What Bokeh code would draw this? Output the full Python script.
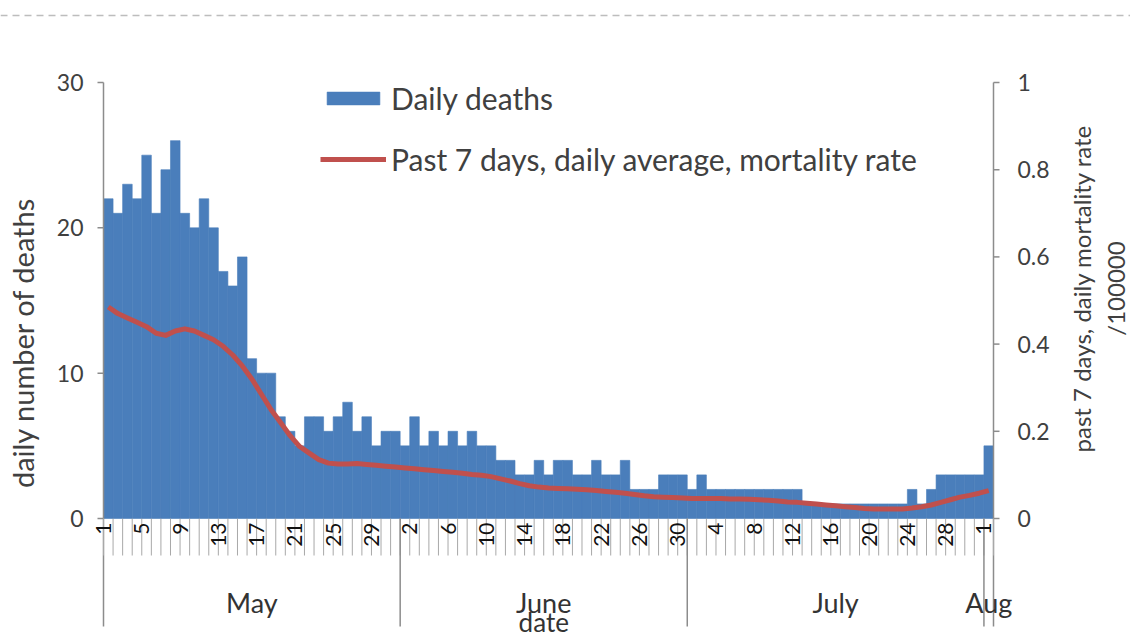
import math
from bokeh.plotting import figure
from bokeh.models import Range1d, Legend, LegendItem, ColumnDataSource, Span
from bokeh.embed import file_html
from bokeh.resources import INLINE
from bokeh.core.properties import value

# ---------------- data ----------------
months = ["May", "June", "July", "Aug"]
month_lengths = [31, 30, 31, 1]

deaths_may = [22, 21, 23, 22, 25, 21, 24, 26, 21, 20, 22, 20, 17, 16, 18, 11, 10, 10, 7, 6,
              5, 7, 7, 6, 7, 8, 6, 7, 5, 6, 6]
deaths_june = [5, 7, 5, 6, 5, 6, 5, 6, 5, 5, 4, 4, 3, 3, 4, 3, 4, 4, 3, 3,
               4, 3, 3, 4, 2, 2, 2, 3, 3, 3]
deaths_july = [2, 3, 2, 2, 2, 2, 2, 2, 2, 2, 2, 2, 1, 1, 1, 1, 1, 1, 1, 1,
               1, 1, 1, 2, 1, 2, 3, 3, 3, 3, 3]
deaths_aug = [5]

rate_may = [0.485, 0.47, 0.46, 0.45, 0.44, 0.425, 0.42, 0.43, 0.435, 0.43,
            0.42, 0.41, 0.395, 0.375, 0.35, 0.32, 0.285, 0.25, 0.22, 0.19,
            0.165, 0.15, 0.135, 0.127, 0.125, 0.125, 0.126, 0.124, 0.122, 0.12, 0.118]
rate_june = [0.116, 0.114, 0.112, 0.11, 0.108, 0.106, 0.104, 0.101, 0.099, 0.096,
             0.091, 0.086, 0.08, 0.075, 0.072, 0.07, 0.069, 0.068, 0.067, 0.066,
             0.064, 0.062, 0.06, 0.058, 0.055, 0.052, 0.05, 0.049, 0.048, 0.047]
rate_july = [0.046, 0.046, 0.046, 0.046, 0.045, 0.045, 0.044, 0.043, 0.042, 0.04,
             0.038, 0.037, 0.035, 0.033, 0.031, 0.029, 0.027, 0.025, 0.023, 0.022,
             0.022, 0.022, 0.022, 0.024, 0.027, 0.031, 0.037, 0.043, 0.049, 0.053, 0.058]
rate_aug = [0.064]

left_ticks = [0, 10, 20, 30]
left_tick_labels = ["0", "10", "20", "30"]
right_ticks = [0, 0.2, 0.4, 0.6, 0.8, 1]
right_tick_labels = ["0", "0.2", "0.4", "0.6", "0.8", "1"]
label_step = 4

legend_bar = "Daily deaths"
legend_line = "Past 7 days, daily average, mortality rate"
y_title = "daily number of deaths"
y2_title = "past 7 days, daily mortality rate\n/100000"
x_title = "date"

# ---------------- derived ----------------
deaths = deaths_may + deaths_june + deaths_july + deaths_aug
rate = rate_may + rate_june + rate_july + rate_aug
n_days = len(deaths)
day_idx = list(range(1, n_days + 1))
day_of_month = []
for L in month_lengths:
    day_of_month += list(range(1, L + 1))

bounds = [i + 0.5 for i in range(0, n_days + 1)]
month_starts = []
acc = 0
for L in month_lengths:
    month_starts.append(acc + 0.5)
    acc += L
inner_month_bounds = month_starts[1:]
x_first, x_last = 0.5, acc + 0.5
month_centers = [s + L / 2 for s, L in zip(month_starts, month_lengths)]

lab_x = [i + 0.5 for i in range(0, n_days, label_step)]
lab_t = [str(day_of_month[i]) for i in range(0, n_days, label_step)]

# ---------------- layout constants (pixels, page coords) ----------------
FONT = "Lato"
W, H = 1130, 640
PLOT_L, PLOT_R = 103, 993          # day area
BASE_Y, TOP_Y = 518, 82            # value 0 / value 30
PX_PER_UNIT = (BASE_Y - TOP_Y) / 30.0
PX_PER_DAY = (PLOT_R - PLOT_L) / float(n_days)
PX_PER_RATE = float(BASE_Y - TOP_Y)


def xd(px):
    return 0.5 + (px - PLOT_L) / PX_PER_DAY


def dx(px):
    return px / PX_PER_DAY


def yd(py):
    return (BASE_Y - py) / PX_PER_UNIT


def yr(py):
    return (BASE_Y - py) / PX_PER_RATE


TXT = "#404040"
AX = "#8c8c8c"

p = figure(width=W, height=H, x_range=Range1d(xd(0), xd(W)), y_range=Range1d(yd(H), yd(0)),
           toolbar_location=None, output_backend="svg",
           x_axis_location=None, y_axis_location=None, min_border=0)
p.grid.visible = False
p.outline_line_color = None
p.background_fill_color = "white"
p.extra_y_ranges = {"rate": Range1d(yr(H), yr(0))}

# top dashed separator
p.add_layout(Span(location=yd(15), dimension="width", line_color="#bdbdbd",
                  line_width=1.5, line_dash="7 5"))

src = ColumnDataSource(dict(x=day_idx, deaths=deaths, rate=rate))
bars = p.vbar(x="x", top="deaths", width=1, bottom=0, source=src,
              fill_color="#4a7ebb", line_color="#4a7ebb", line_width=0.6)
line = p.line(x="x", y="rate", source=src, y_range_name="rate",
              line_color="#c0504d", line_width=5, line_join="round")

# ---- value axis (left): line, ticks, labels, title
p.segment(x0=[x_first, x_last], y0=[left_ticks[-1]] * 2, x1=[x_first, x_last],
          y1=[yd(626)] * 2, line_color=AX, line_width=1.5)
p.segment(x0=[x_first - dx(6)] * len(left_ticks), y0=left_ticks,
          x1=[x_first] * len(left_ticks), y1=left_ticks, line_color=AX, line_width=1.5)
p.text(x=[x_first - dx(20)] * len(left_ticks), y=left_ticks, text=left_tick_labels,
       text_align="right", text_baseline="middle", text_font=value(FONT),
       text_font_size=value("23px"), text_color=TXT)
p.text(x=[xd(22)], y=[yd(342)], text=[y_title], angle=math.pi / 2,
       text_align="center", text_baseline="middle", text_font=value(FONT),
       text_font_size=value("29px"), text_color=TXT)

# ---- rate axis (right): ticks, labels, title
p.segment(x0=[x_last] * len(right_ticks), y0=right_ticks,
          x1=[x_last + dx(6)] * len(right_ticks), y1=right_ticks,
          y_range_name="rate", line_color=AX, line_width=1.5)
p.text(x=[x_last + dx(24)] * len(right_ticks), y=right_ticks, text=right_tick_labels,
       y_range_name="rate", text_align="left", text_baseline="middle",
       text_font=value(FONT), text_font_size=value("23px"), text_color=TXT)
p.text(x=[xd(1098)], y=[yr(288)], text=[y2_title], angle=math.pi / 2,
       y_range_name="rate", text_align="center", text_baseline="middle",
       text_line_height=1.15,
       text_font=value(FONT), text_font_size=value("24px"), text_color=TXT)

# ---- category axis: day ticks, day labels, month separators, month labels
p.segment(x0=bounds, y0=[0] * len(bounds), x1=bounds, y1=[yd(555)] * len(bounds),
          line_color="#a8a8a8", line_width=1)
p.segment(x0=inner_month_bounds, y0=[0] * len(inner_month_bounds), x1=inner_month_bounds,
          y1=[yd(626)] * len(inner_month_bounds), line_color=AX, line_width=1.5)
p.text(x=lab_x, y=[yd(522)] * len(lab_x), text=lab_t, angle=math.pi / 2,
       text_align="right", text_baseline="middle", text_font=value(FONT),
       text_font_size=value("21px"), text_color="#111111")
p.text(x=month_centers, y=[yd(602)] * len(months), text=months,
       text_align="center", text_baseline="middle", text_font=value(FONT),
       text_font_size=value("27px"), text_color="#333333")
p.text(x=[month_starts[1] + month_lengths[1] / 2], y=[yd(621)], text=[x_title],
       text_align="center", text_baseline="middle", text_font=value(FONT),
       text_font_size=value("26px"), text_color="#333333")

legend = Legend(items=[LegendItem(label=legend_bar, renderers=[bars]),
                       LegendItem(label=legend_line, renderers=[line])],
                location=(320, 463), orientation="vertical", border_line_color=None,
                background_fill_alpha=0, padding=0, margin=0, spacing=25,
                glyph_width=66, glyph_height=16, label_height=30, label_standoff=5,
                label_text_font=FONT, label_text_font_size="30px", label_text_color=TXT)
p.add_layout(legend)

open("out.html", "w").write(file_html(p, INLINE))
